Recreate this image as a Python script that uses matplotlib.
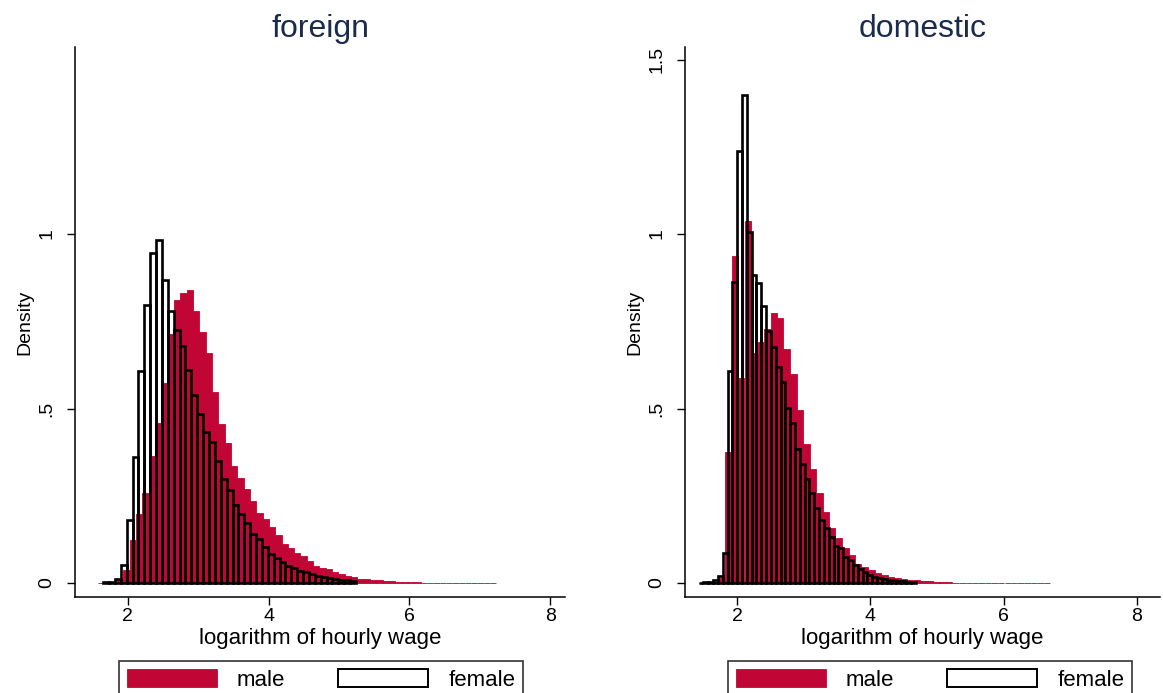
import matplotlib
matplotlib.use("Agg")
import matplotlib.pyplot as plt
import numpy as np

plt.rcParams['font.family'] = ['Liberation Sans', 'DejaVu Sans']

# histogram densities (log hourly wage, density per bin)
# foreign, male
for_male_start = 1.579
for_male_width = 0.0898
for_male = [0.001, 0.001, 0.002, 0.008, 0.037, 0.123, 0.197, 0.259, 0.364, 0.458,
            0.572, 0.713, 0.811, 0.830, 0.840, 0.779, 0.719, 0.659, 0.547, 0.456,
            0.401, 0.336, 0.301, 0.269, 0.235, 0.201, 0.183, 0.160, 0.138, 0.112,
            0.100, 0.086, 0.077, 0.063, 0.049, 0.043, 0.040, 0.032, 0.026, 0.019,
            0.017, 0.013, 0.011, 0.009, 0.008, 0.006, 0.006, 0.004, 0.004, 0.003,
            0.003, 0.001, 0.001, 0.001, 0.001, 0.001, 0.001, 0.001, 0.0, 0.001,
            0.0, 0.0, 0.001]

# foreign, female
for_female_start = 1.6505
for_female_width = 0.0835
for_female = [0.002, 0.003, 0.013, 0.052, 0.180, 0.360, 0.609, 0.797, 0.945, 0.983,
              0.867, 0.779, 0.725, 0.679, 0.610, 0.538, 0.484, 0.432, 0.405, 0.350,
              0.298, 0.268, 0.223, 0.197, 0.171, 0.141, 0.125, 0.104, 0.084, 0.073,
              0.061, 0.050, 0.044, 0.035, 0.032, 0.027, 0.020, 0.016, 0.014, 0.011,
              0.009, 0.008, 0.005]

# domestic, male
dom_male_start = 1.43
dom_male_width = 0.0975
dom_male = [0.001, 0.002, 0.004, 0.015, 0.376, 0.938, 0.588, 1.037, 0.658, 0.690,
            0.727, 0.773, 0.759, 0.672, 0.600, 0.496, 0.398, 0.328, 0.257, 0.203,
            0.158, 0.128, 0.100, 0.079, 0.055, 0.045, 0.036, 0.028, 0.022, 0.016,
            0.014, 0.011, 0.010, 0.009, 0.006, 0.006, 0.003, 0.003, 0.002, 0.001,
            0.001, 0.001, 0.001, 0.001, 0.001, 0.001, 0.001, 0.001, 0.001, 0.001,
            0.001, 0.001, 0.0, 0.001]

# domestic, female
dom_female_start = 1.4243
dom_female_width = 0.0723
dom_female = [0.001, 0.002, 0.004, 0.009, 0.020, 0.086, 0.608, 0.864, 1.237, 1.399,
              1.007, 0.883, 0.861, 0.794, 0.722, 0.676, 0.620, 0.575, 0.503, 0.458,
              0.383, 0.341, 0.299, 0.259, 0.214, 0.181, 0.158, 0.132, 0.105, 0.099,
              0.074, 0.065, 0.053, 0.040, 0.032, 0.022, 0.017, 0.015, 0.011, 0.010,
              0.008, 0.006, 0.005, 0.004, 0.003]

x_ticks = [2, 4, 6, 8]
for_y_ticks = [0, 0.5, 1]
dom_y_ticks = [0, 0.5, 1, 1.5]

MALE_COLOR = '#c10534'
TITLE_COLOR = '#1a2b4c'
W, H = 1163, 693


def tick_text(v):
    # stata style: drop leading zero
    s = ('%g' % v)
    return s[1:] if s.startswith('0.') else s


def draw_panel(ax, title, male, m_start, m_width, female, f_start, f_width,
               xlim, yticks, legend_x):
    m_edges = m_start + np.arange(len(male)) * m_width
    f_edges = f_start + np.arange(len(female)) * f_width
    hm = ax.bar(m_edges, male, width=m_width, align='edge', color=MALE_COLOR,
                edgecolor=MALE_COLOR, linewidth=0.6, label='male')
    hf = ax.bar(f_edges, female, width=f_width, align='edge', facecolor='none',
                edgecolor='black', linewidth=1.9, label='female')

    ax.set_xlim(*xlim)
    ax.set_ylim(-0.04, 1.536)
    ax.spines['top'].set_visible(False)
    ax.spines['right'].set_visible(False)
    for side in ('left', 'bottom'):
        ax.spines[side].set_linewidth(1.1)

    ax.set_xticks(x_ticks)
    ax.set_xticklabels([str(t) for t in x_ticks])
    ax.set_yticks(yticks)
    ax.set_yticklabels([tick_text(t) for t in yticks], rotation=90, va='center')
    ax.tick_params(axis='x', length=6, width=1.0, pad=2, labelsize=14)
    ax.tick_params(axis='y', length=6, width=1.0, pad=8, labelsize=14)

    ax.set_xlabel('logarithm of hourly wage', fontsize=16, labelpad=2)
    ax.set_ylabel('Density', fontsize=14, labelpad=4)
    ax.set_title(title, fontsize=23, color=TITLE_COLOR, pad=7)

    leg = ax.legend(handles=[hm, hf], labels=['male', 'female'], ncol=2,
                    loc='upper center', bbox_to_anchor=(legend_x / W, (H - 661) / H),
                    bbox_transform=ax.figure.transFigure, fontsize=16,
                    handlelength=4.05, handleheight=0.9, handletextpad=0.9,
                    columnspacing=2.4, borderpad=0.35, borderaxespad=0,
                    fancybox=False, frameon=True)
    leg.get_frame().set_edgecolor('black')
    leg.get_frame().set_linewidth(1.2)
    # thinner outline for the legend swatch of the hollow bars
    leg.get_patches()[1].set_linewidth(1.4)


fig = plt.figure(figsize=(W / 100, H / 100), dpi=100)
ax1 = fig.add_axes([75 / W, (H - 597) / H, 490 / W, 550 / H])
ax2 = fig.add_axes([685 / W, (H - 597) / H, 475 / W, 550 / H])

draw_panel(ax1, 'foreign', for_male, for_male_start, for_male_width,
           for_female, for_female_start, for_female_width,
           (1.25, 8.21), for_y_ticks, 321)
draw_panel(ax2, 'domestic', dom_male, dom_male_start, dom_male_width,
           dom_female, dom_female_start, dom_female_width,
           (1.22, 8.345), dom_y_ticks, 930)

fig.savefig('out.png', dpi=100, facecolor='white')
